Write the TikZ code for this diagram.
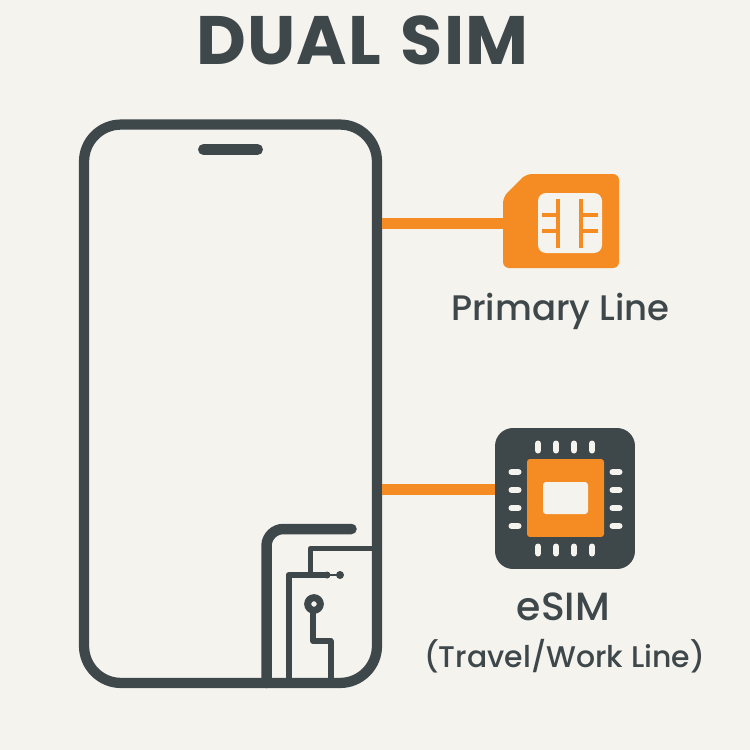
\documentclass[tikz,border=0pt]{standalone}
\usepackage{fontspec}
\usepackage{xcolor}
\usetikzlibrary{positioning}
\newfontfamily\labelfont{Poppins Medium}
\newfontfamily\titlefont[LetterSpace=2]{Poppins}
\definecolor{paper}{HTML}{F5F3EE}
\definecolor{slate}{HTML}{3E474A}
\definecolor{simorange}{HTML}{F58C23}
\tikzset{
	label text/.style={text=slate, inner sep=0pt, anchor=base},
	pin/.style={line width=1.2mm, line cap=round, paper},
	trace/.style={line width=1.2mm, slate, line join=round},
	link/.style={line width=2.1mm, simorange}
}
\begin{document}
\begin{tikzpicture}[x=0.02cm, y=-0.02cm]
		\fill[paper] (0,0) rectangle (750,750);
		\node[label text, font=\titlefont\bfseries\fontsize{39}{46}\selectfont] (title) at (362.5,65) {DUAL\hspace{2pt} SIM};
		
		\begin{scope}[every node/.style={rectangle, inner sep=0pt}]
			\node[draw=slate, line width=2.05mm, rounded corners=7.4mm, minimum width=58.6mm, minimum height=111.7mm] (phone) at (230.5,403.75) {};
			\node[fill=slate, rounded corners=1.1mm, minimum width=13mm, minimum height=2.2mm] (speaker) at (230.5,149.5) {};
			\node[fill=slate, rounded corners=3.6mm, minimum width=28mm, minimum height=28.2mm] (esim) at (565,498.5) {};
			\node[fill=simorange, rounded corners=0.6mm, minimum width=15.4mm, minimum height=15.6mm] (chip) at (565.5,498) {};
			\node[fill=paper, rounded corners=0.6mm, minimum width=9mm, minimum height=6.4mm] (chipwindow) at (565.5,498) {};
		\end{scope}
		\coordinate (simport) at (503,223.5);
		\coordinate (esimport) at (495,489.5);
		
		\fill[simorange, rounded corners=1.2mm] (503,197) -- (526,174) -- (619,174) -- (619,268) -- (503,268) -- cycle;
		\fill[paper, rounded corners=1.6mm] (538,193) rectangle (602,253);
		\draw[link] (phone.east |- simport) -- (simport);
		\draw[link] (phone.east |- esimport) -- (esimport);
		
		\begin{scope}[line width=0.65mm, simorange]
			\draw (558,199) -- (558,248);
			\draw (581,199) -- (581,248);
			\draw (542,215) -- (558,215);
			\draw (542,231) -- (558,231);
			\draw (581,215) -- (598,215);
			\draw (581,231) -- (598,231);
		\end{scope}
		
		\foreach \px in {538,556,574,592} {
			\draw[pin] (\px,443.5) -- (\px,450.5);
			\draw[pin] (\px,546.5) -- (\px,553.5);
		}
		\foreach \py in {472,490,508,526} {
			\draw[pin] (511.5,\py) -- (518.5,\py);
			\draw[pin] (612.5,\py) -- (619.5,\py);
		}
		
		\draw[line width=2.1mm, slate, line cap=round] (266.5,683) -- (266.5,546) arc[start angle=180, end angle=90, radius=3.4mm] -- (351.5,529);
		\draw[trace] (288.5,683) -- (288.5,575) -- (327,575);
		\draw[trace, line width=1.05mm] (310.5,575) -- (310.5,548.5) -- (374,548.5);
		\draw[line width=0.35mm, slate] (327,575) -- (340,575);
		\fill[slate] (327,575) circle[radius=0.7mm];
		\fill[slate] (340,575) circle[radius=0.8mm];
		\draw[trace] (313,612) -- (313,641) -- (330.5,641) -- (330.5,683);
		\draw[line width=1.4mm, slate, fill=paper] (314,604) circle[radius=1.26mm];
		
		\node[label text, font=\labelfont\fontsize{20.2}{24}\selectfont] (primary) at (560.5,320.7) {Primary Line};
		\node[label text, font=\labelfont\fontsize{22.4}{27}\selectfont] (esimname) at (563.5,620.7) {eSIM};
		\node[label text, font=\labelfont\fontsize{17}{21}\selectfont] (esimuse) at (564.5,667.7) {(Travel/Work Line)};
	\end{tikzpicture}
\end{document}
